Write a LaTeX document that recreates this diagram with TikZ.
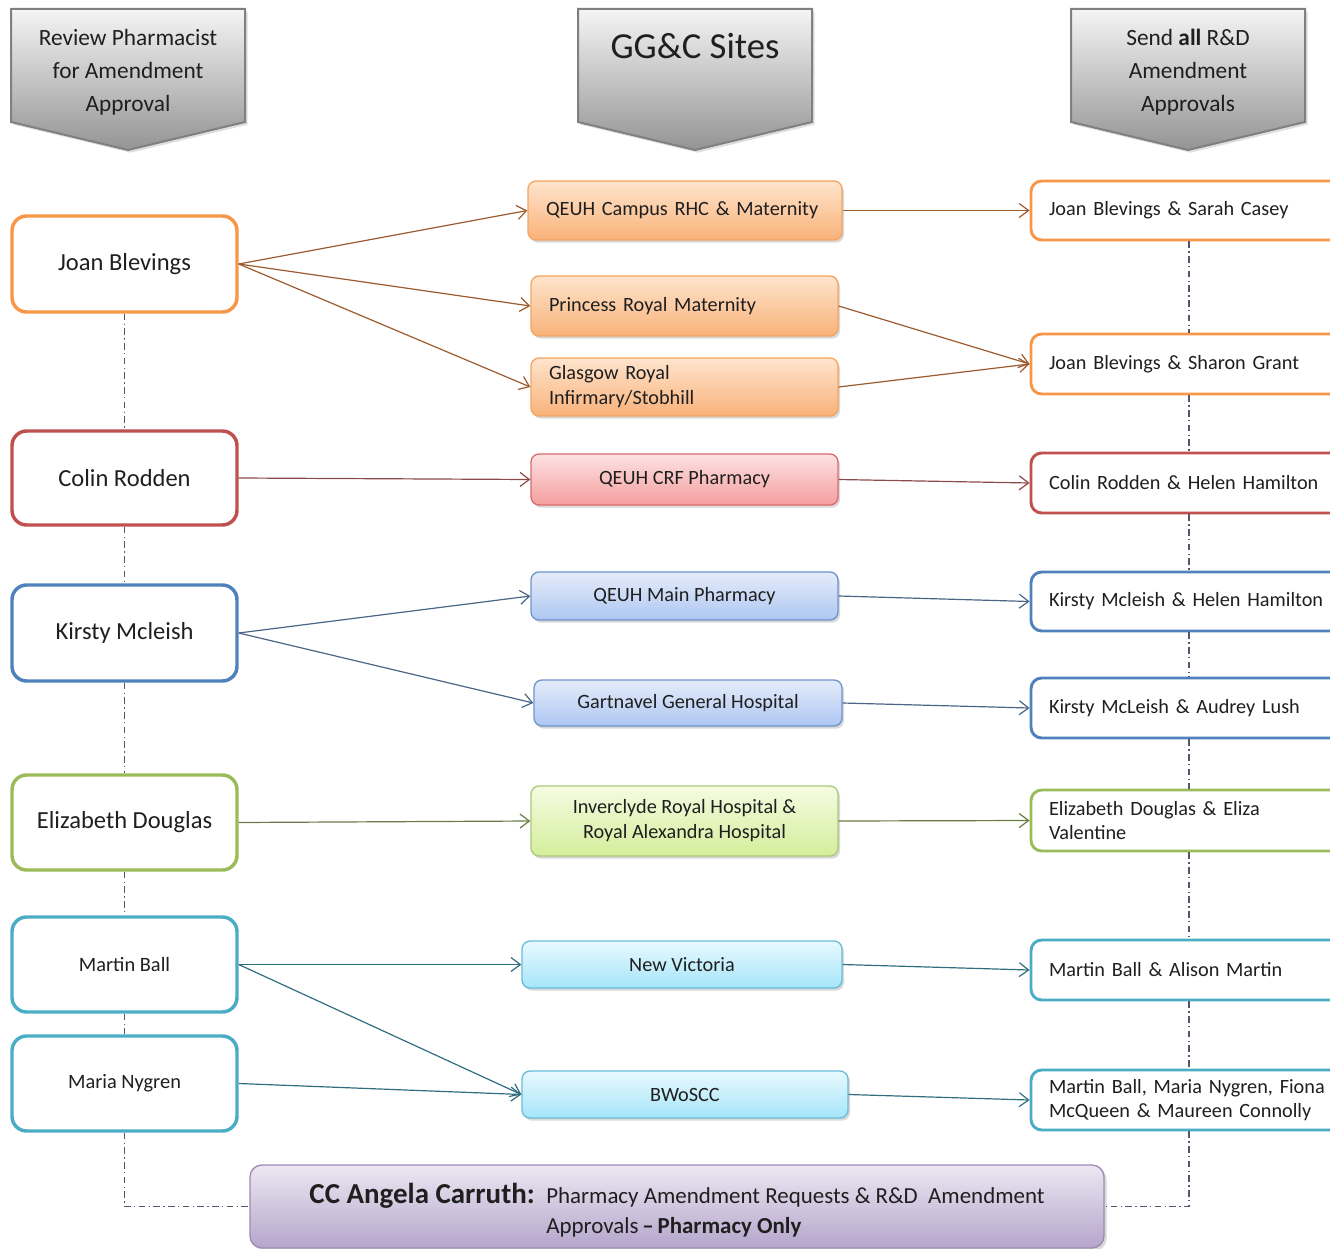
\documentclass[tikz,border=0pt]{standalone}
\usepackage{fontspec}
\setmainfont{Carlito}
\usetikzlibrary{arrows.meta,shadows}
\newcommand\myfs[2]{\fontsize{#1}{#2}\selectfont}
\definecolor{cOr}{HTML}{F79646}
\definecolor{cRd}{HTML}{C0504D}
\definecolor{cBl}{HTML}{4F81BD}
\definecolor{cGr}{HTML}{9BBB59}
\definecolor{cTl}{HTML}{4BACC6}
\definecolor{aOr}{HTML}{9C5B2E}
\definecolor{aRd}{HTML}{8C4A4A}
\definecolor{aBl}{HTML}{4A6684}
\definecolor{aGr}{HTML}{6A7A44}
\definecolor{aTl}{HTML}{2F6E7E}
\definecolor{dd}{HTML}{55556F}
\definecolor{txt}{HTML}{1F1F1F}
\definecolor{oT}{HTML}{FEE4CC}\definecolor{oB}{HTML}{F9B27A}\definecolor{oD}{HTML}{F5A35F}
\definecolor{rT}{HTML}{FDE2E2}\definecolor{rB}{HTML}{F59E9E}\definecolor{rD}{HTML}{D86C6C}
\definecolor{bT}{HTML}{E4ECFA}\definecolor{bB}{HTML}{AEC7F2}\definecolor{bD}{HTML}{7093CC}
\definecolor{gT}{HTML}{F5FBE2}\definecolor{gB}{HTML}{D3EE9A}\definecolor{gD}{HTML}{ABC97A}
\definecolor{tT}{HTML}{E8F9FE}\definecolor{tB}{HTML}{A6E5FA}\definecolor{tD}{HTML}{68BCD8}
\definecolor{pT}{HTML}{ECE8F2}\definecolor{pB}{HTML}{B5A5CB}\definecolor{pD}{HTML}{9C8BB5}
\begin{document}
\begin{tikzpicture}[x=0.75pt,y=-0.75pt,
  hdr/.style={draw=black!50, line width=1.5pt, top color=black!4, bottom color=black!42,
    drop shadow={shadow xshift=2pt, shadow yshift=-2pt, opacity=0.25}},
  htext/.style={align=center, text=txt, font=\myfs{17.5}{24.75}},
  lbox/.style 2 args={rectangle, rounded corners=11pt, draw=#1, line width=2.6pt, fill=white,
    minimum width=225*0.75pt, minimum height=#2*0.75pt, inner sep=0pt, text=txt, font=\myfs{18.4}{21}},
  mbox/.style 2 args={rectangle, rounded corners=6pt, line width=1pt,
    minimum width=#1*0.75pt, minimum height=#2*0.75pt, inner sep=0pt, text=txt, font=\myfs{15.2}{18.75},
    drop shadow={shadow xshift=1.5pt, shadow yshift=-2pt, opacity=0.3}},
  mleft/.style={text width=(#1-36)*0.75pt, align=left},
  fOr/.style={top color=oT, bottom color=oB, draw=oD},
  fRd/.style={top color=rT, bottom color=rB, draw=rD},
  fBl/.style={top color=bT, bottom color=bB, draw=bD},
  fGr/.style={top color=gT, bottom color=gB, draw=gD},
  fTl/.style={top color=tT, bottom color=tB, draw=tD},
  rbox/.style 2 args={rectangle, rounded corners=8pt, draw=#1, line width=2.2pt, fill=white,
    minimum width=316*0.75pt, minimum height=#2*0.75pt, text width=280*0.75pt, align=left,
    inner xsep=0pt, inner ysep=0pt, text=txt, font=\myfs{15.2}{18}},
  arr/.style={draw=#1, line width=0.9pt, -{Straight Barb[length=7pt,width=10.5pt]}},
  ddash/.style={draw=dd, line width=0.8pt, dash pattern=on 5pt off 2.5pt on 1pt off 2.5pt}
]
\useasboundingbox (0,0) rectangle (1330,1248);

% headers
\path[hdr] (11,9) -- (245,9) -- (245,122) -- (128,150) -- (11,122) -- cycle;
\path[hdr] (578,9) -- (812,9) -- (812,122) -- (695,150) -- (578,122) -- cycle;
\path[hdr] (1071,9) -- (1305,9) -- (1305,122) -- (1188,150) -- (1071,122) -- cycle;
\node[htext] (h1) at (128,72) {Review Pharmacist\\for Amendment\\Approval};
\node[htext, font=\myfs{27.5}{30}] (h2) at (695,46) {GG\&C Sites};
\node[htext] (h3) at (1188,72) {Send \textbf{all} R\&D\\Amendment\\Approvals};

% left column
\node[lbox={cOr}{96}] (joan) at (124.5,264) {Joan Blevings};
\node[lbox={cRd}{94}] (colin) at (124.5,478) {Colin Rodden};
\node[lbox={cBl}{96}] (kirsty) at (124.5,633) {Kirsty Mcleish};
\node[lbox={cGr}{95}] (eliz) at (124.5,822.5) {Elizabeth Douglas};
\node[lbox={cTl}{95}, font=\myfs{15.3}{18}] (martin) at (124.5,964.5) {Martin Ball};
\node[lbox={cTl}{95}, font=\myfs{15.3}{18}] (maria) at (124.5,1083.5) {Maria Nygren};

% middle column
\node[mbox={314}{59}, fOr, mleft=314] (m1) at (685,210.5) {QEUH Campus RHC \& Maternity};
\node[mbox={307}{60}, fOr, mleft=307] (m2) at (684.5,306) {Princess Royal Maternity};
\node[mbox={307}{58}, fOr, mleft=307] (m3) at (684.5,387) {Glasgow Royal\\Infirmary/Stobhill};
\node[mbox={307}{51}, fRd] (m4) at (684.5,479.5) {QEUH CRF Pharmacy};
\node[mbox={307}{48}, fBl] (m5) at (684.5,596) {QEUH Main Pharmacy};
\node[mbox={308}{46}, fBl] (m6) at (688,703) {Gartnavel General Hospital};
\node[mbox={307}{70}, fGr, align=center] (m7) at (684.5,821) {Inverclyde Royal Hospital \&\\Royal Alexandra Hospital};
\node[mbox={320}{47}, fTl] (m8) at (682,964.5) {New Victoria};
\node[mbox={326}{47}, fTl] (m9) at (685,1094.5) {BWoSCC};

% right column
\node[rbox={cOr}{59}] (r1) at (1189,210.5) {Joan Blevings \& Sarah Casey};
\node[rbox={cOr}{60}] (r2) at (1189,364) {Joan Blevings \& Sharon Grant};
\node[rbox={cRd}{60}] (r3) at (1189,483) {Colin Rodden \& Helen Hamilton};
\node[rbox={cBl}{59}] (r4) at (1189,601.5) {Kirsty Mcleish \& Helen Hamilton};
\node[rbox={cBl}{60}] (r5) at (1189,708) {Kirsty McLeish \& Audrey Lush};
\node[rbox={cGr}{61}] (r6) at (1189,820.5) {Elizabeth Douglas \& Eliza\\Valentine};
\node[rbox={cTl}{60}] (r7) at (1189,970) {Martin Ball \& Alison Martin};
\node[rbox={cTl}{60}] (r8) at (1189,1100) {\mbox{Martin Ball, Maria Nygren, Fiona}\\McQueen \& Maureen Connolly};

% bottom box
\node[rectangle, rounded corners=9pt, draw=pD, line width=1pt,
  top color=pT, bottom color=pB,
  drop shadow={shadow xshift=2pt, shadow yshift=-2pt, opacity=0.3},
  minimum width=854*0.75pt, minimum height=83*0.75pt] (cc) at (677,1206.5) {};
\node[align=center, text=txt, font=\myfs{17.2}{22.5}, yshift=-4.5pt] (cctext) at (cc.center)
  {{\bfseries\myfs{21.7}{22.5}CC Angela Carruth:}\enspace\begin{tabular}[t]{@{}l@{}}Pharmacy Amendment Requests \& R\&D\ \ Amendment\\[0.6pt]
   Approvals\,\textbf{–\,Pharmacy Only}\end{tabular}};

% dash-dot connectors
\draw[ddash] (joan.south) -- (colin.north);
\draw[ddash] (colin.south) -- (kirsty.north);
\draw[ddash] (kirsty.south) -- (eliz.north);
\draw[ddash] (eliz.south) -- (martin.north);
\draw[ddash] (martin.south) -- (maria.north);
\draw[ddash] (maria.south) |- (cc.west);
\draw[ddash] (r1.south) -- (r2.north);
\draw[ddash] (r2.south) -- (r3.north);
\draw[ddash] (r3.south) -- (r4.north);
\draw[ddash] (r4.south) -- (r5.north);
\draw[ddash] (r5.south) -- (r6.north);
\draw[ddash] (r6.south) -- (r7.north);
\draw[ddash] (r7.south) -- (r8.north);
\draw[ddash] (r8.south) |- (cc.east);

% arrows left -> middle
\draw[arr=aOr] (joan.east) -- (m1.west);
\draw[arr=aOr] (joan.east) -- (m2.west);
\draw[arr=aOr] (joan.east) -- (m3.west);
\draw[arr=aRd] (colin.east) -- (m4.west);
\draw[arr=aBl] (kirsty.east) -- (m5.west);
\draw[arr=aBl] (kirsty.east) -- (m6.west);
\draw[arr=aGr] (eliz.east) -- (m7.west);
\draw[arr=aTl] (martin.east) -- (m8.west);
\draw[arr=aTl] (martin.east) -- (m9.west);
\draw[arr=aTl] (maria.east) -- (m9.west);

% arrows middle -> right
\draw[arr=aOr] (m1.east) -- (r1.west);
\draw[arr=aOr] (m2.east) -- (r2.west);
\draw[arr=aOr] (m3.east) -- (r2.west);
\draw[arr=aRd] (m4.east) -- (r3.west);
\draw[arr=aBl] (m5.east) -- (r4.west);
\draw[arr=aBl] (m6.east) -- (r5.west);
\draw[arr=aGr] (m7.east) -- (r6.west);
\draw[arr=aTl] (m8.east) -- (r7.west);
\draw[arr=aTl] (m9.east) -- (r8.west);
\end{tikzpicture}
\end{document}
